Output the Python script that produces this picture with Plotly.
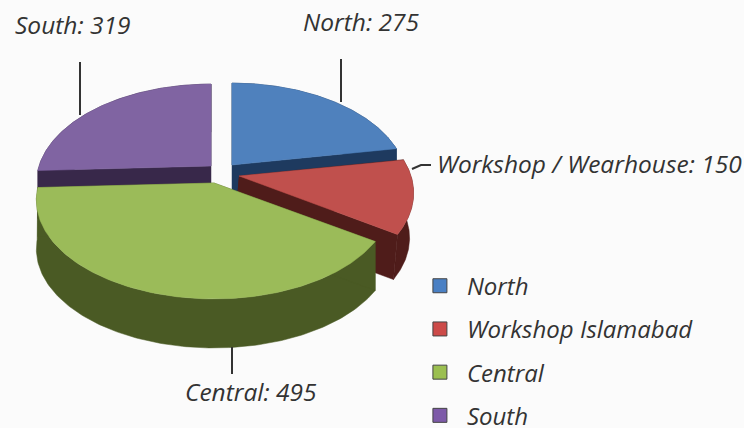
import numpy as np
import plotly.graph_objects as go

categories = ["North", "Workshop Islamabad", "Central", "South"]
values = [275, 150, 495, 319]
callouts = ["North: 275", "Workshop / Wearhouse: 150", "Central: 495", "South: 319"]
top_colors = ["#4f81bd", "#c0504d", "#9bbb59", "#8064a2"]
side_colors = ["#1e3a5f", "#4f1c1a", "#4a5a24", "#38284a"]
legend_colors = ["#4a80c4", "#cc4a48", "#9bbf50", "#7d5aa8"]
apexes = [(232, 165), (239, 176), (214, 183), (211, 166)]
widths = [172, 172, 175, 172]
depths = [48, 45, 49, 48]
skews = [0, -4, 0, 0]

B, Q = 96, -0.172
TEXT = "#333333"
FONT = "Open Sans"
FS = 24.5
LEGEND_FS = 24


def project(theta, apex, a):
    u, v = np.sin(theta), -np.cos(theta)
    d = 1 + Q * v
    return apex[0] + a * u / d, apex[1] + B * v / d


total = sum(values)
edges = np.cumsum([0] + values) / total * 2 * np.pi
fig = go.Figure()


def poly(x, y, color):
    fig.add_trace(go.Scatter(x=list(x), y=list(y), mode="lines", fill="toself", fillcolor=color,
                             line=dict(color=color, width=0.5), hoverinfo="skip", showlegend=False))


for i in [3, 0, 1, 2]:
    th = np.linspace(edges[i], edges[i + 1], 160)
    ax, ay = apexes[i]
    px, py = project(th, apexes[i], widths[i])
    dep, sk = depths[i], skews[i]
    # outer wall
    poly(np.r_[px, (px + sk)[::-1]], np.r_[py, (py + dep)[::-1]], side_colors[i])
    # radial faces
    for k in (0, -1):
        poly([ax, px[k], px[k] + sk, ax + sk], [ay, py[k], py[k] + dep, ay + dep], side_colors[i])
    # top face
    poly(np.r_[ax, px, ax], np.r_[ay, py, ay], top_colors[i])

# leader lines
leaders = [([341, 341], [59, 102]), ([412, 421, 431], [169, 165, 165]),
           ([232, 232], [347, 374]), ([80, 80], [62, 115])]
for lx, ly in leaders:
    fig.add_trace(go.Scatter(x=lx, y=ly, mode="lines", line=dict(color="#333333", width=2),
                             hoverinfo="skip", showlegend=False))

# legend
for name, c in zip(categories, legend_colors):
    fig.add_trace(go.Scatter(x=[None], y=[None], mode="markers", name=name, legendgroup=name,
                             marker=dict(symbol="square", size=14, color=c, line=dict(color="#444444", width=1))))

label_pos = [(361, 21), (589, 163), (250.5, 391.5), (72, 24)]
for t, (x, y) in zip(callouts, label_pos):
    fig.add_annotation(x=x, y=y, text=t, showarrow=False, xanchor="center", yanchor="middle",
                       font=dict(family=FONT, size=FS, color=TEXT, style="italic"))

fig.update_layout(
    width=744, height=428, margin=dict(l=0, r=0, t=0, b=0, autoexpand=False),
    paper_bgcolor="#fbfbfb", plot_bgcolor="#fbfbfb",
    xaxis=dict(range=[0, 744], visible=False, fixedrange=True),
    yaxis=dict(range=[428, 0], visible=False, fixedrange=True),
    legend=dict(x=0.555, y=0.384, xanchor="left", yanchor="top", bgcolor="rgba(0,0,0,0)",
                tracegroupgap=9, itemwidth=44,
                font=dict(family=FONT, size=LEGEND_FS, color=TEXT, style="italic")),
)
fig.write_html("out.html", config={"displayModeBar": False},
               post_script="document.body.style.margin='0';document.body.style.background='#fbfbfb';")
